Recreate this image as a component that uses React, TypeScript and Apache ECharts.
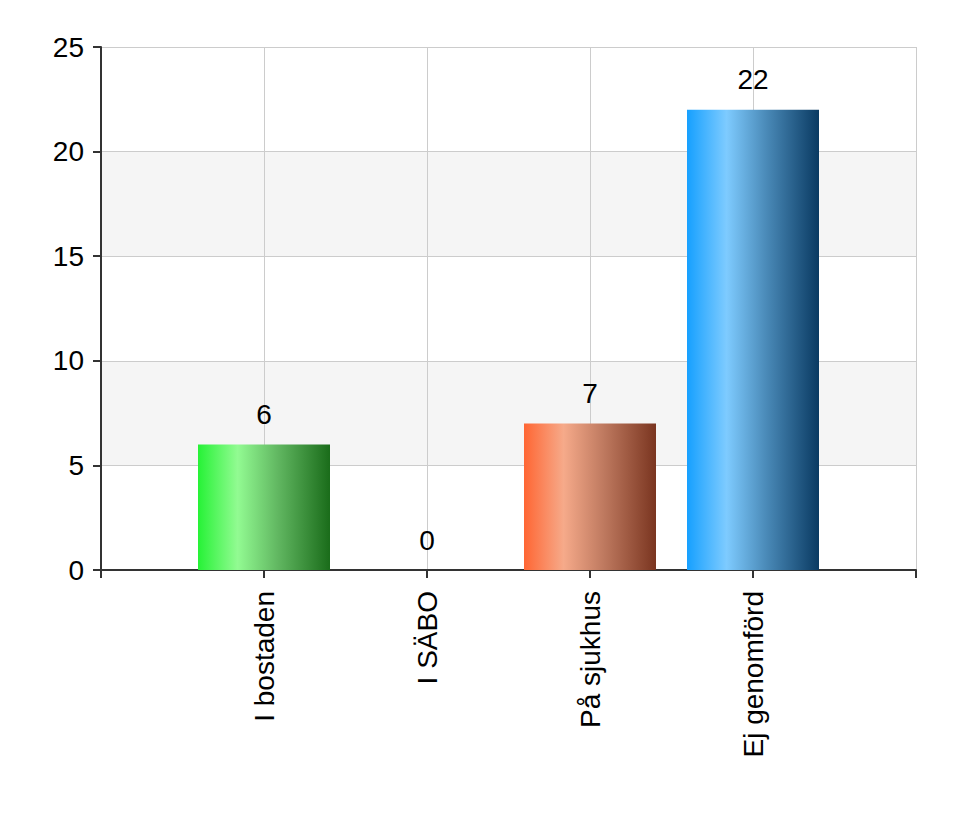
import React, { useEffect, useRef } from "react";
import * as echarts from "echarts";

const categories = ["", "I bostaden", "I SÄBO", "På sjukhus", "Ej genomförd", ""];
const values: (number | string)[] = ["-", 6, 0, 7, 22, "-"];
const yTicks = [0, 5, 10, 15, 20, 25];

const barGradients: Record<string, string[]> = {
  "I bostaden": ["#26f236", "#92fb92", "#62b862", "#1a6c1a"],
  "I SÄBO": ["#26f236", "#92fb92", "#62b862", "#1a6c1a"],
  "På sjukhus": ["#ff6633", "#f6aa8a", "#bf7a60", "#7a3520"],
  "Ej genomförd": ["#16a0ff", "#7ecbff", "#4a8ab8", "#0a3a62"],
};

export default function App() {
  const ref = useRef<HTMLDivElement>(null);
  useEffect(() => {
    if (!ref.current) return;
    const chart = echarts.init(ref.current, undefined, { renderer: "svg" });
    const font = "'Liberation Sans', Arial, sans-serif";
    const data = values.map((v, i) => {
      const g = barGradients[categories[i]];
      if (!g) return v;
      return {
        value: v,
        itemStyle: {
          color: new echarts.graphic.LinearGradient(0, 0, 1, 0, [
            { offset: 0, color: g[0] },
            { offset: 0.3, color: g[1] },
            { offset: 0.6, color: g[2] },
            { offset: 1, color: g[3] },
          ]),
        },
      };
    });
    chart.setOption({
      animation: false,
      backgroundColor: "#ffffff",
      grid: { left: 101, right: 52, top: 47, bottom: 260, containLabel: false },
      xAxis: {
        type: "category",
        data: categories,
        boundaryGap: false,
        axisLine: { show: true, lineStyle: { color: "#333333", width: 2 } },
        axisTick: { show: true, length: 8, lineStyle: { color: "#333333", width: 2 }, interval: 0 },
        axisLabel: {
          rotate: 90,
          interval: 0,
          margin: 21,
          color: "#000000",
          fontSize: 28,
          fontFamily: font,
        },
        splitLine: { show: true, interval: 0, lineStyle: { color: "#cccccc", width: 1 } },
      },
      yAxis: {
        type: "value",
        min: yTicks[0],
        max: yTicks[yTicks.length - 1],
        interval: 5,
        axisLine: { show: true, lineStyle: { color: "#333333", width: 2 } },
        axisTick: { show: true, length: 8, lineStyle: { color: "#333333", width: 2 } },
        axisLabel: { margin: 17, color: "#000000", fontSize: 28, fontFamily: font },
        splitLine: { show: true, lineStyle: { color: "#cccccc", width: 1 } },
        splitArea: { show: true, areaStyle: { color: ["#ffffff", "#f5f5f5"] } },
      },
      series: [
        {
          type: "bar",
          data,
          barWidth: 132,
          label: {
            show: true,
            position: "top",
            distance: 16,
            color: "#000000",
            fontSize: 28,
            fontFamily: font,
          },
        },
      ],
    });
    return () => chart.dispose();
  }, []);
  return <div ref={ref} style={{ width: 968, height: 830, margin: -8 }} />;
}
